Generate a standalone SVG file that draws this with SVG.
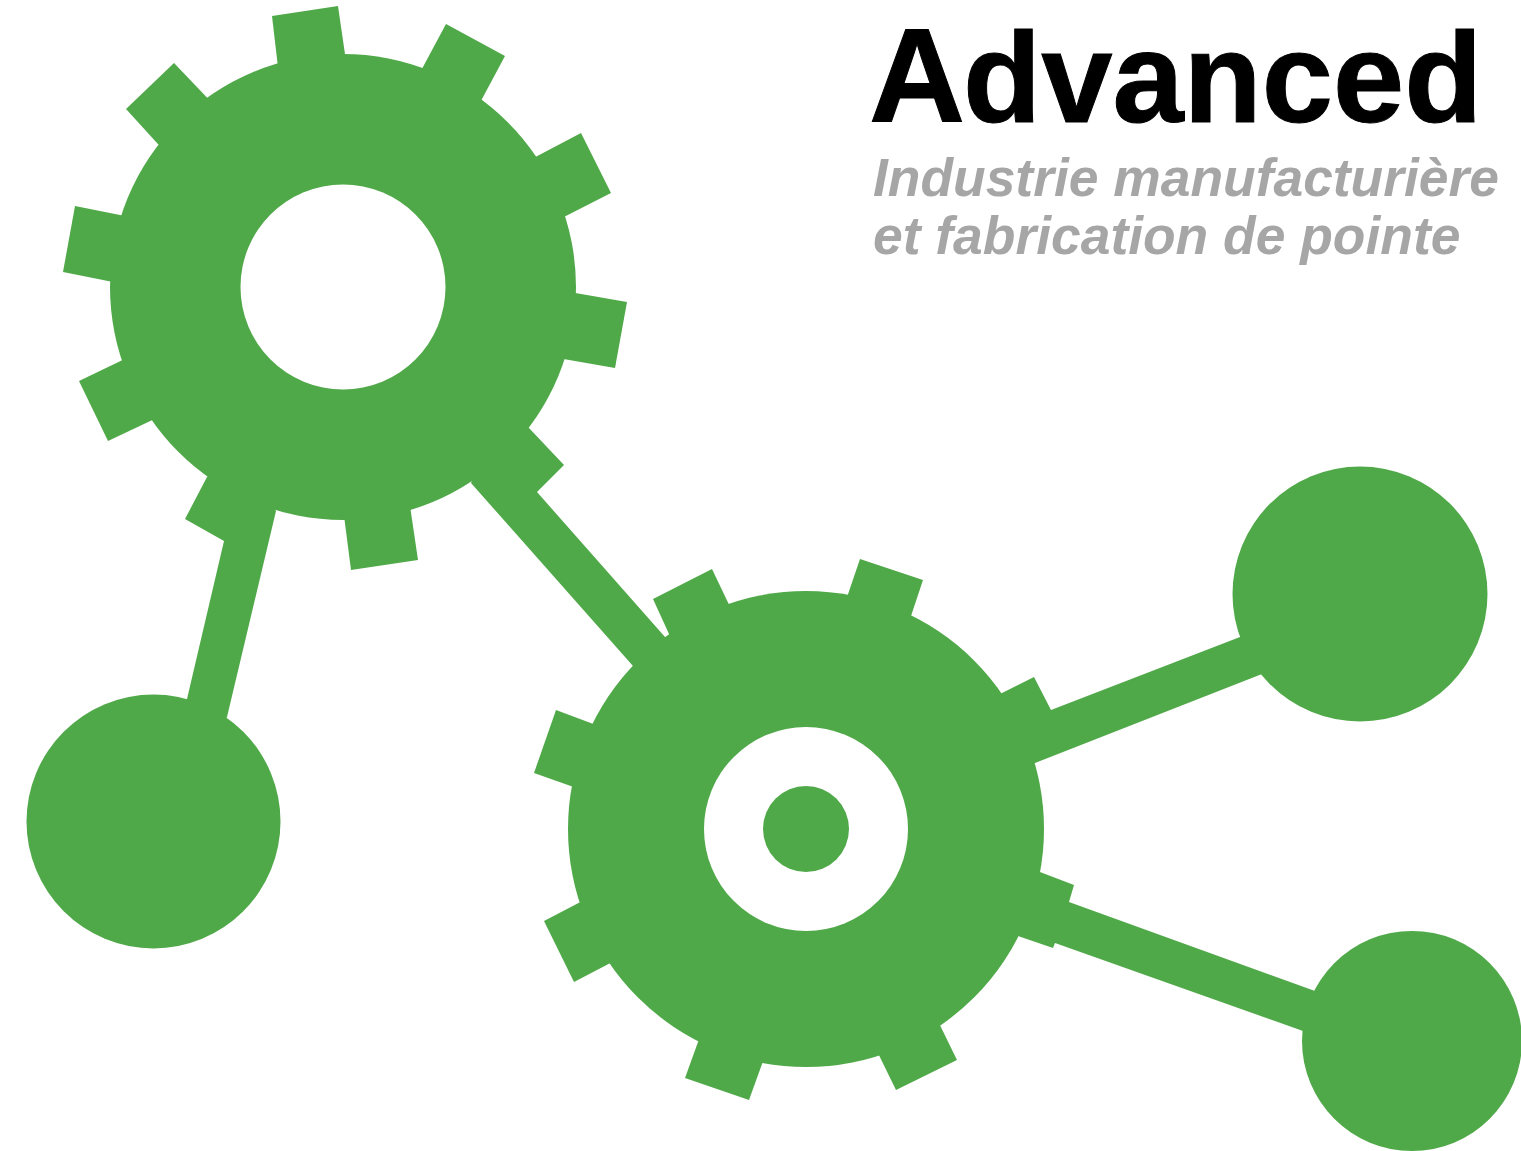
<svg xmlns="http://www.w3.org/2000/svg" width="1521" height="1151" viewBox="0 0 1521 1151">
<style>
.g{fill:#50a949}
.h{fill:#fff}
.t{font-family:"Liberation Sans",Arial,sans-serif;font-weight:bold}
.m{font-size:128px;fill:#000;stroke:#000;stroke-width:1px}
.s{font-style:italic;font-size:53.4px;fill:#a6a6a6}
</style>
<rect width="1521" height="1151" fill="#fff"/>
<g id="connectors">
<polygon class="g" points="207,477 185,519 224,541 187,699 190,760 227,717 276,511 240,450"/>
<polygon class="g" points="471,483 633,666 700,690 665,637 537,492 564,465 529,428 500,410"/>
<polygon class="g" points="994,697 1034,677 1051,710 1240,637 1300,620 1262,674 1035,763 1000,780"/>
<polygon class="g" points="1040,872 1074,885 1069,902 1315,991 1380,1010 1303,1031 1055,943 1053,948 1018,936 1000,900"/>
</g>
<g id="gear1">
<circle class="g" cx="343" cy="287" r="233"/>
<polygon class="g" points="279,76 272,16 338,6 347,68"/>
<polygon class="g" points="416,80 446,24 505,56 475,112"/>
<polygon class="g" points="524,163 581,133 611,193 554,222"/>
<polygon class="g" points="564,291 627,302 615,368 552,357"/>
<polygon class="g" points="409,499 418,560 351,570 343,508"/>
<polygon class="g" points="163,415 108,441 79,381 133,355"/>
<polygon class="g" points="123,284 63,272 75,206 135,218"/>
<polygon class="g" points="167,154 126,109 174,63 216,107"/>
<circle class="h" cx="343" cy="287" r="102.500"/>
</g>
<g id="gear2">
<circle class="g" cx="806" cy="829" r="238"/>
<polygon class="g" points="733,613 712,569 653,599 669,634 674,643"/>
<polygon class="g" points="845,603 860,559 923,580 908,625"/>
<polygon class="g" points="935,1015 957,1060 896,1090 874,1045"/>
<polygon class="g" points="766,1053 749,1100 685,1078 702,1031"/>
<polygon class="g" points="620,958 574,982 544,921 590,897"/>
<polygon class="g" points="582,790 534,773 556,710 604,728"/>
<circle class="h" cx="806" cy="829" r="102"/>
<circle class="g" cx="806" cy="829" r="43"/>
</g>
<g id="node-left"><circle class="g" cx="153.500" cy="821.500" r="127"/></g>
<g id="node-top-right"><circle class="g" cx="1360" cy="594" r="127.500"/></g>
<g id="node-bottom-right"><circle class="g" cx="1412" cy="1041" r="110"/></g>
<g id="title">
<text class="t m" y="122"><tspan x="869" font-size="133">A</tspan><tspan x="963">dvanced</tspan></text>
<text class="t s" x="873" y="196">Industrie manufacturière</text>
<text class="t s" x="873" y="254">et fabrication de pointe</text>
</g>
</svg>
